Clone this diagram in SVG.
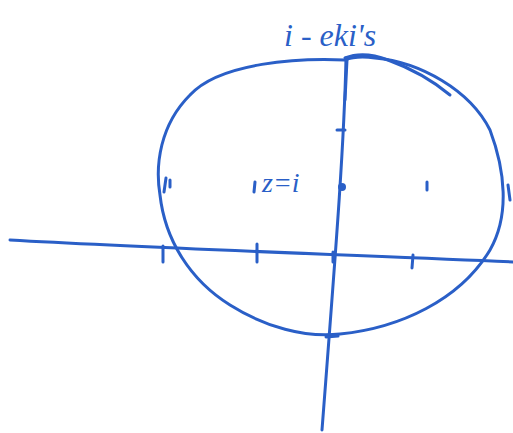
<svg xmlns="http://www.w3.org/2000/svg" width="513" height="433" viewBox="0 0 513 433">
<style>
.ink{fill:none;stroke:#2a5fc7;stroke-width:3;stroke-linecap:round;stroke-linejoin:round}
.lbl{fill:#2a5fc7;font-family:"Liberation Serif",serif;font-style:italic}
</style>
<rect width="513" height="433" fill="#fff"/>
<g id="circle">
<path class="ink" d="M345,60 C300,58 220,62 190,95 C160,125 155,165 160,195 C165,240 190,280 230,305 C265,327 305,338 340,334 C400,328 460,300 490,250 C510,215 505,170 490,130 C470,90 420,62 375,58 C360,56 350,58 345,60"/>
<path class="ink" d="M345,58 C360,52 375,55 388,60 C410,68 432,80 450,95"/>
</g>
<g id="axes">
<path class="ink" d="M10,240 C150,248 350,255 513,262"/>
<path class="ink" d="M346,58 C344,150 335,260 322,430"/>
<path class="ink" d="M347,60 L345,100"/>
</g>
<g id="ticks">
<path class="ink" d="M163,246 L163,262"/>
<path class="ink" d="M257,244 L257,262"/>
<path class="ink" d="M333,252 L333,262"/>
<path class="ink" d="M413,255 L412,268"/>
<path class="ink" d="M337,130 L345,130"/>
<path class="ink" d="M338,336 L326,337"/>
<path class="ink" d="M166,178 L164,192 M170,180 L170,187"/>
<path class="ink" d="M255,182 L254,192"/>
<path class="ink" d="M427,182 L427,190"/>
<path class="ink" d="M508,185 L510,200"/>
<circle cx="342" cy="187" r="4" fill="#2a5fc7"/>
</g>
<g id="label-top">
<text class="lbl" x="284" y="46" font-size="32">i - eki's</text>
</g>
<g id="label-z">
<text class="lbl" x="262" y="192" font-size="28">z=i</text>
</g>
</svg>
